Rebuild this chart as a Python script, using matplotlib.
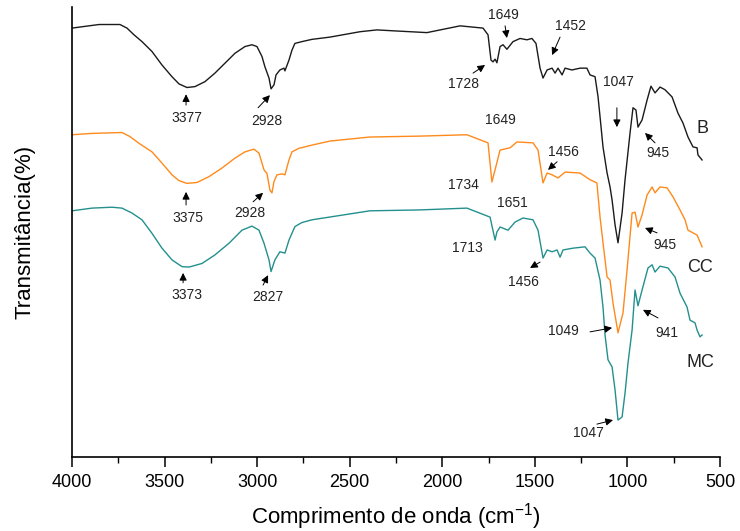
import numpy as np
import matplotlib
matplotlib.use("Agg")
from matplotlib import pyplot as plt

plt.rcParams['font.family'] = ['Liberation Sans', 'DejaVu Sans']
plt.rcParams['mathtext.default'] = 'regular'

# espectro B
wn_b = [4000, 3946, 3854, 3741, 3703, 3665, 3622, 3568, 3514, 3460, 3422, 3379, 3336, 3282,
        3228, 3174, 3120, 3066, 3028, 3001, 2974, 2958, 2936, 2925, 2909, 2898, 2877, 2855,
        2850, 2828, 2812, 2796, 2758, 2704, 2607, 2444, 2353, 2266, 2083, 1904, 1780, 1753,
        1737, 1726, 1715, 1705, 1688, 1672, 1651, 1618, 1580, 1543, 1516, 1494, 1472, 1456,
        1434, 1407, 1391, 1375, 1353, 1337, 1300, 1256, 1219, 1202, 1175, 1159, 1148, 1132,
        1110, 1094, 1083, 1067, 1051, 1029, 1013, 986, 970, 954, 943, 921, 894, 873, 851,
        824, 797, 759, 727, 700, 673, 646, 624, 619, 597]
t_b = [95.3, 95.6, 96.1, 96.1, 95.3, 93.8, 92.3, 90.1, 87.1, 84.5, 82.9, 82.1, 82.3, 83.4,
       85.3, 87.5, 89.7, 91.2, 91.6, 91.2, 89.0, 86.7, 84.2, 81.8, 82.7, 84.9, 86.0, 86.4,
       85.8, 88.2, 90.4, 91.9, 92.3, 92.8, 93.3, 94.5, 94.9, 94.7, 94.3, 95.8, 95.3, 93.8,
       88.2, 87.8, 88.4, 87.6, 91.2, 91.6, 90.6, 92.3, 93.0, 92.7, 93.0, 91.9, 86.4, 84.2,
       86.0, 86.4, 85.3, 86.4, 84.9, 86.4, 86.0, 86.4, 86.4, 84.9, 84.5, 80.1, 75.6, 68.9,
       63.1, 60.0, 57.1, 51.6, 47.6, 54.2, 61.6, 72.0, 77.6, 77.1, 73.3, 74.9, 79.3, 82.4,
       80.9, 82.2, 81.6, 80.0, 76.4, 74.2, 71.1, 68.9, 68.7, 67.1, 66.0]

# espectro CC
wn_cc = [4000, 3892, 3730, 3687, 3638, 3568, 3514, 3460, 3422, 3379, 3325, 3260, 3190, 3120,
         3066, 3017, 2990, 2963, 2947, 2931, 2920, 2909, 2893, 2866, 2850, 2828, 2812, 2774,
         2704, 2607, 2391, 2120, 1867, 1753, 1732, 1715, 1688, 1634, 1597, 1510, 1483, 1456,
         1434, 1407, 1375, 1337, 1256, 1202, 1165, 1148, 1132, 1110, 1094, 1078, 1051, 1024,
         1002, 975, 959, 943, 921, 894, 867, 851, 824, 786, 754, 716, 689, 673, 646, 624, 597]
t_cc = [71.6, 71.9, 72.1, 71.2, 69.7, 67.8, 65.3, 62.7, 61.4, 60.8, 61.0, 62.3, 64.2, 66.4,
        67.8, 68.4, 67.5, 63.8, 63.0, 59.3, 58.7, 61.2, 62.7, 62.9, 62.7, 66.0, 67.8, 68.6,
        69.3, 70.2, 71.1, 71.3, 71.6, 69.8, 61.1, 63.8, 68.2, 68.7, 70.0, 69.8, 68.2, 60.9,
        63.1, 62.7, 62.0, 63.3, 63.1, 61.6, 60.9, 53.3, 47.6, 40.0, 39.3, 34.2, 27.6, 32.0,
        41.6, 54.2, 54.4, 51.1, 53.8, 58.2, 60.0, 58.7, 60.0, 59.8, 57.8, 54.9, 52.7, 50.4,
        49.8, 49.3, 46.7]

# espectro MC
wn_mc = [4000, 3892, 3784, 3730, 3676, 3622, 3568, 3514, 3460, 3406, 3368, 3298, 3228, 3152,
         3082, 3028, 2990, 2963, 2936, 2925, 2904, 2877, 2850, 2828, 2796, 2758, 2704, 2391,
         2120, 1867, 1742, 1715, 1705, 1688, 1645, 1607, 1564, 1510, 1483, 1456, 1434, 1407,
         1380, 1364, 1348, 1294, 1229, 1202, 1175, 1148, 1132, 1121, 1105, 1083, 1067, 1051,
         1029, 1013, 997, 975, 959, 943, 921, 889, 867, 851, 824, 781, 743, 716, 678, 662,
         635, 624, 608, 597]
t_mc = [54.7, 55.3, 55.5, 55.3, 54.2, 52.7, 49.7, 46.4, 43.8, 42.3, 42.2, 43.0, 44.9, 47.5,
        50.4, 51.3, 50.4, 47.5, 43.8, 41.2, 43.8, 45.6, 45.3, 48.2, 51.2, 52.1, 52.7, 54.7,
        54.9, 55.3, 53.3, 48.2, 50.0, 51.1, 50.4, 52.2, 53.1, 52.7, 50.4, 44.2, 46.0, 45.6,
        46.0, 44.4, 46.0, 46.4, 46.7, 45.3, 44.2, 39.3, 33.3, 27.1, 21.6, 20.0, 14.9, 8.2,
        8.9, 14.2, 20.9, 28.2, 37.1, 33.6, 37.1, 42.0, 42.7, 41.1, 42.4, 42.0, 40.0, 36.4,
        33.3, 30.4, 29.8, 28.2, 26.7, 27.1]

series = ['B', 'CC', 'MC']
colors = ['#1a1a1a', '#ff8a1c', '#23908e']

fig = plt.figure(figsize=(7.4, 5.31), dpi=100)
ax = fig.add_axes([0.0973, 0.1394, 0.8757, 0.8475])

for wn, t, c in zip([wn_b, wn_cc, wn_mc], [t_b, t_cc, t_mc], colors):
    ax.plot(wn, t, color=c, lw=1.0)

# (texto, pos. texto, cauda da seta, ponta da seta)
notes = [
    ('3377', (3379, 75.3), (3384, 78.2), (3384, 80.6)),
    ('2928', (2947, 74.7), (2995, 77.6), (2931, 80.4)),
    ('1728', (1883, 82.9), (1834, 85.3), (1769, 87.1)),
    ('1649', (1672, 98.2), (1661, 95.8), (1651, 93.1)),
    ('1452', (1310, 95.8), (1364, 93.3), (1407, 89.3)),
    ('1047', (1051, 83.3), (1057, 77.6), (1057, 73.3)),
    ('945', (835, 67.6), (851, 69.8), (905, 72.0)),
    ('3375', (3373, 53.1), (3384, 56.0), (3384, 58.9)),
    ('2928', (3039, 54.2), (3022, 56.7), (2968, 58.7)),
    ('1649', (1688, 74.9), None, None),
    ('1734', (1888, 60.4), None, None),
    ('1456', (1348, 67.8), (1380, 65.6), (1429, 63.8)),
    ('945', (797, 47.1), (840, 49.8), (905, 50.9)),
    ('1651', (1624, 56.4), None, None),
    ('1713', (1867, 46.4), None, None),
    ('3373', (3379, 36.0), (3400, 38.7), (3400, 40.9)),
    ('2827', (2941, 35.6), (2968, 38.2), (2941, 40.4)),
    ('1456', (1564, 38.9), (1472, 43.3), (1526, 42.0)),
    ('1049', (1348, 28.0), (1202, 27.8), (1083, 28.7)),
    ('941', (786, 27.6), (835, 30.9), (916, 32.7)),
    ('1047', (1208, 5.3), (1165, 7.3), (1078, 8.2)),
]
for txt, pos, tail, head in notes:
    ax.text(pos[0], pos[1], txt, ha='center', va='center', fontsize=10, color='#222222')
    if head is not None:
        ax.annotate('', xy=head, xytext=tail,
                    arrowprops=dict(arrowstyle='-|>', color='k', lw=0.7,
                                    mutation_scale=11, shrinkA=0, shrinkB=0))

for name, pos in zip(series, [(597, 73.1), (608, 42.2), (608, 21.1)]):
    ax.text(pos[0], pos[1], name, ha='center', va='center', fontsize=13, color='#222222')

ax.set_xlim(4000, 500)
ax.set_ylim(0, 100)
ax.set_xticks(np.arange(4000, 499, -500))
ax.set_xticks(np.arange(3750, 500, -500), minor=True)
ax.set_yticks([])
ax.spines['top'].set_visible(False)
ax.spines['right'].set_visible(False)
ax.spines['left'].set_linewidth(1.2)
ax.spines['bottom'].set_linewidth(1.2)
ax.tick_params(axis='x', which='major', direction='out', length=7, width=1.1,
               labelsize=13, pad=5)
ax.tick_params(axis='x', which='minor', direction='out', length=4, width=1.0)

fig.text(396 / 740, 1 - 517 / 531, 'Comprimento de onda (cm$^{-1}$)',
         ha='center', va='center', fontsize=16)
fig.text(25 / 740, 1 - 232 / 531, 'Transmitância(%)', rotation=90,
         ha='center', va='center', fontsize=16)

fig.savefig('out.png', dpi=100)
